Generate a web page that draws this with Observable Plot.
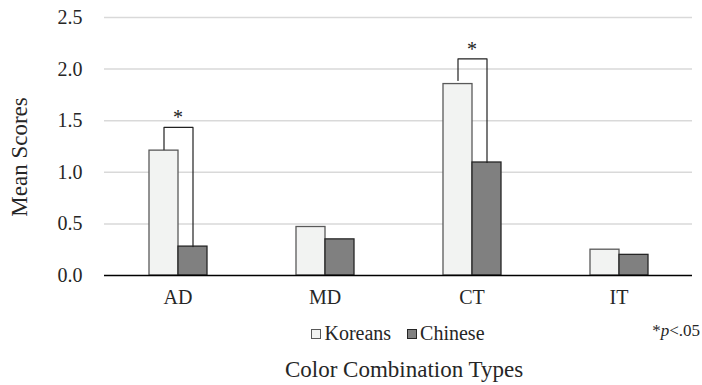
<!DOCTYPE html>
<html>
<head>
<meta charset="utf-8">
<script src="https://cdn.jsdelivr.net/npm/d3@7"></script>
<script src="https://cdn.jsdelivr.net/npm/@observablehq/plot@0.6"></script>
<style>
  html, body { margin: 0; padding: 0; background: #fff; }
  #wrap { position: relative; width: 702px; height: 385px; font-family: "Liberation Serif", "Times New Roman", serif; color: #262626; overflow: hidden; }
  .legend { position: absolute; top: 323px; left: 0; width: 796px; text-align: center; font-size: 20px; white-space: nowrap; line-height: 20px; font-family: "Liberation Serif", serif; }
  .legend span.item { margin: 0 8px; }
  .sw { display: inline-block; width: 10px; height: 10px; margin-right: 3px; vertical-align: 1px; box-sizing: border-box; }
  .note { position: absolute; top: 322px; right: 2px; font-size: 17px; line-height: 17px; white-space: nowrap; }
  .xtitle { position: absolute; top: 358px; left: 0; width: 808px; text-align: center; font-size: 23px; line-height: 23px; white-space: nowrap; }
  .ytitle { position: absolute; left: 19px; top: 157px; width: 0; height: 0; }
  .ytitle span { position: absolute; left: 0; top: 0; transform: translate(-50%, -50%) rotate(-90deg); font-size: 23px; line-height: 23px; white-space: nowrap; }
</style>
</head>
<body>
<div id="wrap">
  <div id="chart"></div>
  <div class="ytitle"><span id="ytitle"></span></div>
  <div class="legend" id="legend"></div>
  <div class="note" id="note"></div>
  <div class="xtitle" id="xtitle"></div>
</div>
<script>
// ---- data ----
const categories = ["AD", "MD", "CT", "IT"];
const groups = ["Koreans", "Chinese"];
const koreans = [1.21, 0.47, 1.855, 0.25];
const chinese = [0.28, 0.35, 1.095, 0.20];
const yTicks = [0, 0.5, 1.0, 1.5, 2.0, 2.5];
// significance brackets
const sigCats = ["AD", "CT"];
const bracketTop = [1.435, 2.10];
const bracketLeftEnd = [1.22, 1.89];
const bracketRightEnd = [0.28, 1.095];
const starY = [1.53, 2.19];
const yLabel = "Mean Scores";
const xLabel = "Color Combination Types";
const noteText = "*<i>p</i>&lt;.05";

const fills = {Koreans: "#f2f3f2", Chinese: "#808080"};
const strokes = {Koreans: "#595959", Chinese: "#262626"};

const data = categories.flatMap((c, i) => [
  {cat: c, group: "Koreans", value: koreans[i]},
  {cat: c, group: "Chinese", value: chinese[i]}
]);

const bracketPts = sigCats.flatMap((c, i) => [
  {cat: c, group: "Koreans", y: bracketLeftEnd[i]},
  {cat: c, group: "Koreans", y: bracketTop[i]},
  {cat: c, group: "Chinese", y: bracketTop[i]},
  {cat: c, group: "Chinese", y: bracketRightEnd[i]}
]);
const stars = sigCats.map((c, i) => ({cat: c, y: starY[i]}));

const chart = Plot.plot({
  width: 702,
  height: 322,
  marginLeft: 103,
  marginRight: 9,
  marginTop: 17,
  marginBottom: 47,
  style: {fontFamily: "Liberation Serif, Times New Roman, serif", fontSize: "20px", color: "#262626", background: "white"},
  fx: {domain: categories, padding: 0, label: null, tickSize: 0, tickPadding: 14},
  x: {domain: groups, paddingInner: 0, paddingOuter: 1.5, axis: null},
  y: {domain: [0, 2.5], ticks: yTicks, tickFormat: d3.format(".1f"), label: null, tickSize: 0, tickPadding: 22},
  marks: [
    Plot.gridY(yTicks.filter(t => t > 0), {stroke: "#d9d9d9", strokeOpacity: 1, strokeWidth: 1.5}),
    ...groups.map(g => Plot.barY(data.filter(d => d.group === g), {
      fx: "cat", x: "group", y: "value", fill: fills[g], stroke: strokes[g], strokeWidth: 1.3
    })),
    Plot.ruleY([0], {stroke: "#000", strokeWidth: 1.4}),
    Plot.line(bracketPts, {fx: "cat", x: "group", y: "y", z: "cat", stroke: "#222", strokeWidth: 1.2}),
    Plot.text(stars, {fx: "cat", y: "y", text: () => "*", fontSize: 20, lineAnchor: "middle", fill: "#222"})
  ]
});
document.getElementById("chart").appendChild(chart);

// legend
const leg = document.getElementById("legend");
leg.innerHTML = groups.map(g =>
  `<span class="item"><span class="sw" style="background:${fills[g]};border:1px solid ${strokes[g]}"></span>${g}</span>`
).join("");
document.getElementById("note").innerHTML = noteText;
document.getElementById("xtitle").textContent = xLabel;
document.getElementById("ytitle").textContent = yLabel;
</script>
</body>
</html>
